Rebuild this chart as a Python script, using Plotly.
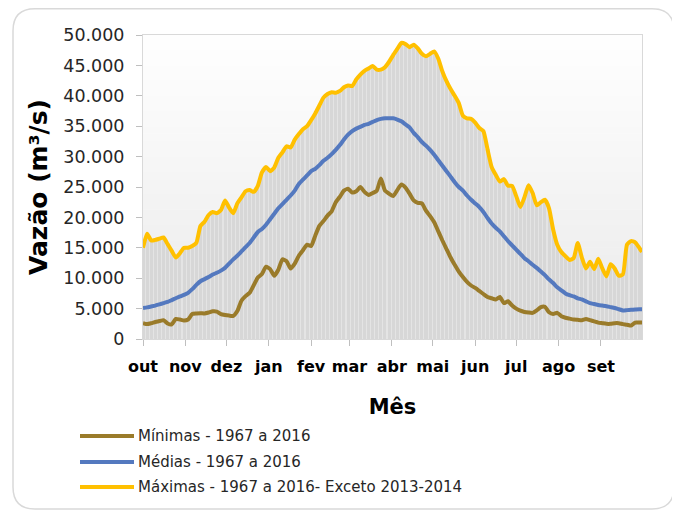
import plotly.graph_objects as go

# ---- data (daily flow, m3/s), read every 3 days from the chart ----
DAYS = list(range(0, 364, 3)) + [365]

MAXIMAS = [15000, 17300, 16200, 16300, 16500, 16700, 15600, 14500, 13400, 14100,
           15000, 15000, 15300, 15800, 18600, 19300, 20400, 20900, 20700, 21200,
           22800, 21600, 20700, 22300, 23300, 24300, 24500, 24200, 25200, 27400,
           28300, 27600, 28200, 29800, 30700, 31700, 31500, 32800, 33700, 34500,
           35000, 36000,
           37100, 38400, 39700, 40300, 40600, 40500, 40800, 41400, 41700, 41600,
           42700, 43500, 44100, 44500, 44900, 44300, 44300, 44700, 45600, 46700,
           47700, 48700, 48500, 48000, 48400, 47800, 46900, 46500, 46900, 47300,
           46100, 44000, 42400, 41100, 40000, 38800, 36700, 36300, 36200, 35600,
           34700, 34200, 31200, 28300, 27000, 25900, 26300, 25200, 25200, 23500,
           21700, 23300, 25300, 24000, 22000, 22500, 22900, 21500, 18000, 15500,
           14300, 13600, 13000, 13300, 15800, 13400, 11600, 12700, 11500, 13200,
           11600, 10300, 12300, 11600, 10400, 10600, 15500, 16100, 15900, 15000,
           14300]

MEDIAS = [5100, 5200, 5350, 5500, 5700, 5900, 6100, 6400, 6700, 7000,
          7250, 7600, 8200, 8900, 9500, 9850, 10200, 10600, 10900, 11250,
          11700, 12400, 13100, 13700, 14400, 15100, 15800, 16700, 17600, 18100,
          18800, 19700, 20600, 21500, 22200, 22900, 23600, 24400, 25500, 26200,
          26900, 27600,
          28000, 28600, 29300, 29800, 30400, 31100, 31900, 32800, 33600, 34200,
          34600, 34900, 35200, 35400, 35700, 36000, 36200, 36300, 36300, 36300,
          36100, 35800, 35300, 34800, 33900, 33200, 32400, 31800, 31100, 30300,
          29400, 28500, 27600, 26700, 25800, 25000, 24400, 23600, 22900, 22300,
          21700, 20900, 19900, 19000, 18300, 17700, 16900, 16100, 15400, 14700,
          14000, 13300, 12800, 12200, 11700, 11100, 10500, 9800, 9200, 8500,
          8000, 7500, 7200, 7000, 6700, 6500, 6200, 5900, 5750, 5600,
          5500, 5400, 5250, 5100, 4900, 4700, 4750, 4800, 4850, 4900,
          4900]

MINIMAS = [2600, 2450, 2600, 2800, 2950, 3100, 2550, 2400, 3300, 3200,
           3050, 3200, 4100, 4200, 4250, 4200, 4350, 4550, 4500, 4100,
           3950, 3850, 3800, 4600, 6300, 7050, 7600, 8850, 10100, 10700,
           11900, 11500, 10400, 11400, 13100, 12800, 11600, 12400, 13700, 14600,
           15500, 15300,
           17000, 18600, 19400, 20300, 21000, 22500, 23400, 24400, 24700, 24100,
           24300, 25000, 24200, 23700, 24000, 24400, 26400, 24400, 23900, 23500,
           24500, 25400, 24900, 23900, 22800, 22400, 22300, 21100, 20200, 19200,
           17700, 16200, 14800, 13400, 12200, 11100, 10200, 9400, 8800, 8400,
           7900, 7400, 6900, 6700, 6500, 6900, 5900, 6200, 5500, 5000,
           4650, 4450, 4350, 4300, 4700, 5250, 5300, 4400, 4100, 4300,
           3750, 3500, 3350, 3200, 3150, 3100, 3300, 3100, 2900, 2700,
           2600, 2500, 2500, 2600, 2600, 2450, 2350, 2200, 2700, 2700,
           2700]

MONTH_STARTS = [0, 31, 61, 92, 123, 151, 182, 212, 243, 273, 304, 335]
MONTH_LABELS = ["out", "nov", "dez", "jan", "fev", "mar", "abr", "mai", "jun", "jul", "ago", "set"]
Y_TICKS = [0, 5000, 10000, 15000, 20000, 25000, 30000, 35000, 40000, 45000, 50000]

SERIES_NAMES = ["Mínimas - 1967 a 2016", "Médias - 1967 a 2016",
                "Máximas - 1967 a 2016- Exceto 2013-2014"]
COLORS = ["#9A7B2A", "#5479BF", "#FFC000"]

FONT = "DejaVu Sans"

# ---- layout geometry (page pixels; the page body adds an 8px offset) ----
OFF = 8
W, H = 680 - OFF, 511 - OFF
PLOT_L, PLOT_R, PLOT_T, PLOT_B = 143, 642, 35, 339   # page pixels
ML, MT = PLOT_L - OFF, PLOT_T - OFF
PW, PH = PLOT_R - PLOT_L, PLOT_B - PLOT_T
MR, MB = W - ML - PW, H - MT - PH


def px(x):
    return (x - PLOT_L) / PW


def py(y):
    return (PLOT_B - y) / PH


fig = go.Figure()

# grey striped fill under the maxima (light base + darker narrower columns)
fig.add_trace(go.Bar(x=DAYS, y=MAXIMAS, width=3.0, marker_color="#e4e4e4",
                     marker_line_width=0, showlegend=False, hoverinfo="skip"))
fig.add_trace(go.Bar(x=DAYS, y=MAXIMAS, width=2.2, marker_color="#d7d7d7",
                     marker_line_width=0, showlegend=False, hoverinfo="skip"))

for name, vals, col in zip(SERIES_NAMES, [MINIMAS, MEDIAS, MAXIMAS], COLORS):
    fig.add_trace(go.Scatter(x=DAYS, y=vals, mode="lines", name=name,
                             line=dict(color=col, width=4, shape="spline", smoothing=0.5),
                             showlegend=False))

shapes = []
# vertical gradient background of plot area
N = 40
for i in range(N):
    t = i / N
    c = int(round(234 + (255 - 234) * t))
    shapes.append(dict(type="rect", xref="paper", yref="paper", x0=0, x1=1,
                       y0=t, y1=t + 1.0 / N + 0.002, layer="below",
                       line=dict(width=0), fillcolor=f"rgb({c},{c},{c})"))

# rounded outer frame
x0, x1, yt, yb, r = 13, 674, 8.8, 509, 22
path = (f"M {px(x0 + r)},{py(yt)} L {px(x1 - r)},{py(yt)} "
        f"Q {px(x1)},{py(yt)} {px(x1)},{py(yt + r)} L {px(x1)},{py(yb - r)} "
        f"Q {px(x1)},{py(yb)} {px(x1 - r)},{py(yb)} L {px(x0 + r)},{py(yb)} "
        f"Q {px(x0)},{py(yb)} {px(x0)},{py(yb - r)} L {px(x0)},{py(yt + r)} "
        f"Q {px(x0)},{py(yt)} {px(x0 + r)},{py(yt)} Z")
shapes.append(dict(type="path", xref="paper", yref="paper", path=path,
                   line=dict(color="#d9d9d9", width=1.5), layer="below"))

# manual legend
annotations = []
legend_y = [436, 462, 487]
for name, col, ly in zip(SERIES_NAMES, COLORS, legend_y):
    shapes.append(dict(type="line", xref="paper", yref="paper",
                       x0=px(80), x1=px(134), y0=py(ly), y1=py(ly),
                       line=dict(color=col, width=4)))
    annotations.append(dict(xref="paper", yref="paper", x=px(136), y=py(ly),
                            xanchor="left", yanchor="middle", showarrow=False,
                            text=name, font=dict(family=FONT, size=15, color="#262626")))

fig.update_layout(
    width=W, height=H,
    margin=dict(l=ML, r=MR, t=MT, b=MB),
    paper_bgcolor="white", plot_bgcolor="white",
    separators=",.",
    bargap=0, barmode="overlay",
    shapes=shapes, annotations=annotations,
    showlegend=False,
    xaxis=dict(range=[0, 365], tickmode="array", tickvals=MONTH_STARTS, ticktext=MONTH_LABELS,
               ticks="outside", ticklen=6, tickcolor="#bfbfbf", showgrid=False,
               showline=True, linecolor="#d9d9d9", linewidth=1, mirror=True, zeroline=False,
               tickfont=dict(family=FONT, size=16, color="black", weight="bold"),
               ticklabelstandoff=7,
               title=dict(text="Mês", standoff=24,
                          font=dict(family=FONT, size=21, color="black", weight="bold"))),
    yaxis=dict(range=[0, 50000], tickmode="array", tickvals=Y_TICKS, tickformat=",d",
               ticks="outside", ticklen=6, tickcolor="#bfbfbf", showgrid=False,
               showline=True, linecolor="#d9d9d9", linewidth=1, mirror=True, zeroline=False,
               tickfont=dict(family=FONT, size=17.5, color="#262626"),
               ticklabelstandoff=8,
               title=dict(text="Vazão (m³/s)", standoff=8,
                          font=dict(family=FONT, size=25, color="black", weight="bold"))),
)

fig.write_html("out.html")
